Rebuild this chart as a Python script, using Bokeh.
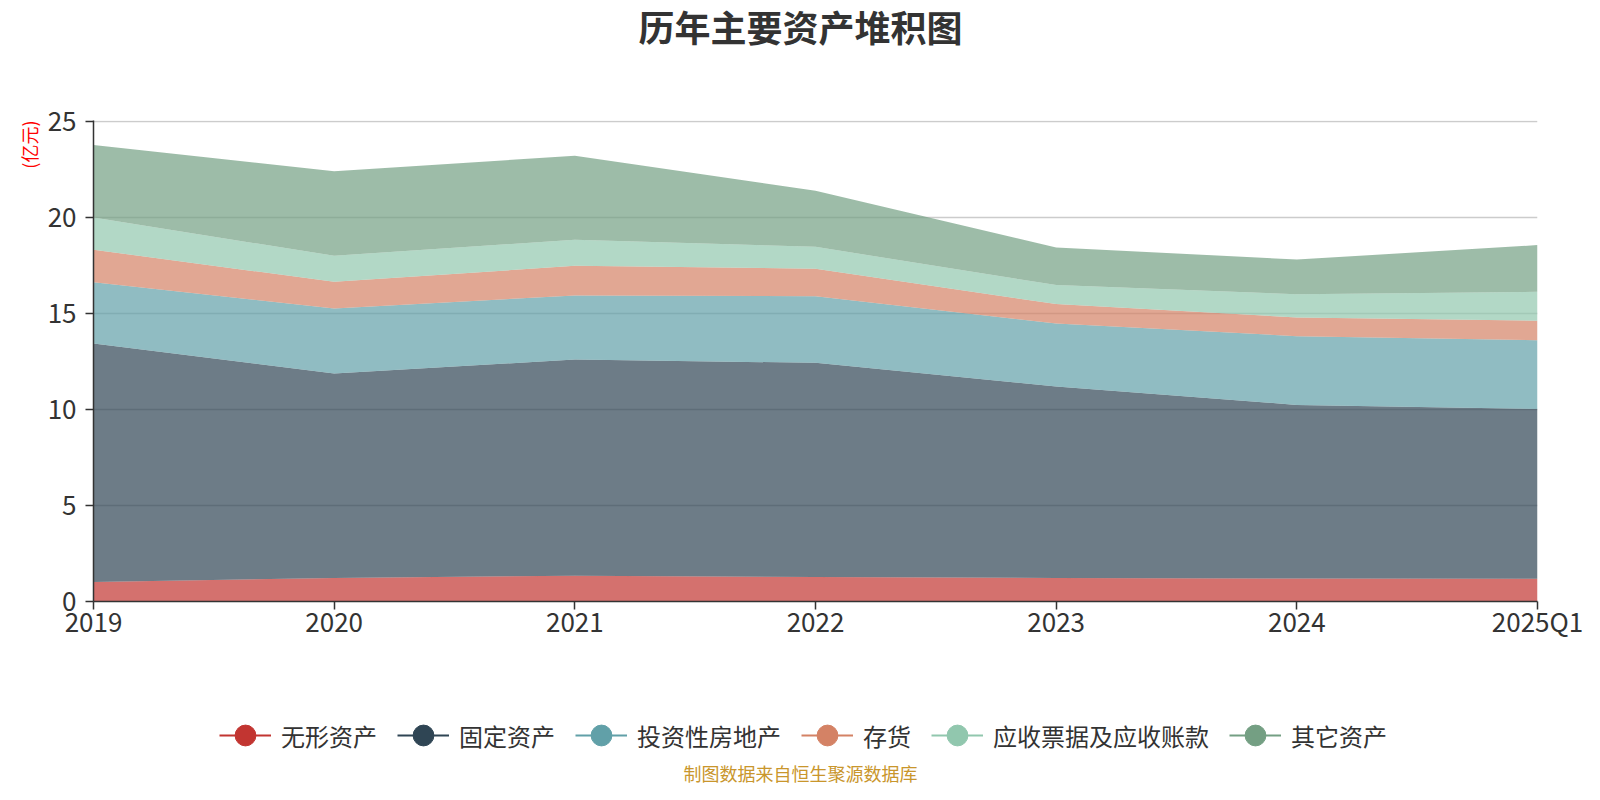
from bokeh.plotting import figure
from bokeh.layouts import column
from bokeh.models import ColumnDataSource, FixedTicker, Label, Legend, LegendItem, Title
from bokeh.embed import file_html
from bokeh.resources import INLINE

# ---- data ----
periods = ["2019", "2020", "2021", "2022", "2023", "2024", "2025Q1"]
series_names = ["无形资产", "固定资产", "投资性房地产", "存货", "应收票据及应收账款", "其它资产"]
intangible = [1.02, 1.23, 1.34, 1.28, 1.23, 1.20, 1.18]
fixed_assets = [12.42, 10.65, 11.26, 11.15, 9.97, 9.04, 8.85]
investment_property = [3.19, 3.38, 3.34, 3.47, 3.28, 3.58, 3.58]
inventory = [1.69, 1.39, 1.54, 1.43, 1.01, 0.97, 1.01]
receivables = [1.68, 1.35, 1.36, 1.14, 0.99, 1.21, 1.51]
other_assets = [3.78, 4.41, 4.37, 2.92, 1.96, 1.81, 2.43]
y_ticks = [0, 5, 10, 15, 20, 25]

colors = ["#c23531", "#2f4554", "#61a0a8", "#d48265", "#91c7ae", "#749f83"]
FONT = "Noto Sans CJK SC"

W = 1584
FL, FR = 93, 1537          # frame left / right (px)
H1 = 102                   # header height
TOP, FH, BOT = 18, 481, 45 # main: top border, frame height, bottom border
H2 = TOP + FH + BOT
H3 = 784 - H1 - H2         # footer height


def blank_fig(h):
    f = figure(width=W, height=h, output_backend="svg", toolbar_location=None,
               x_range=(FL, FR), y_range=(0, h), x_axis_type=None, y_axis_type=None,
               min_border_left=FL, min_border_right=W - FR,
               min_border_top=0, min_border_bottom=0)
    f.grid.visible = False
    f.outline_line_color = None
    f.background_fill_color = "white"
    f.border_fill_color = "white"
    return f


# ---- header with title ----
header = blank_fig(H1)
header.add_layout(Label(x=800, y=H1 - 25.5, text="历年主要资产堆积图",
                        text_align="center", text_baseline="middle",
                        text_font=FONT, text_font_size="36px", text_font_style="bold",
                        text_color="#333333"))

# ---- main chart ----
xs = list(range(len(periods)))
source = ColumnDataSource(data={
    "x": xs,
    series_names[0]: intangible,
    series_names[1]: fixed_assets,
    series_names[2]: investment_property,
    series_names[3]: inventory,
    series_names[4]: receivables,
    series_names[5]: other_assets,
})

p = figure(width=W, height=H2, output_backend="svg", toolbar_location=None,
           x_range=(0, len(periods) - 1), y_range=(0, 25.05),
           min_border_left=FL, min_border_right=W - FR,
           min_border_top=TOP, min_border_bottom=BOT)
p.outline_line_color = None
p.background_fill_color = "white"
p.border_fill_color = "white"

p.varea_stack(stackers=series_names, x="x", color=colors, fill_alpha=0.7, source=source)

p.xaxis.ticker = FixedTicker(ticks=xs)
p.xaxis.major_label_overrides = {i: lab for i, lab in enumerate(periods)}
p.yaxis.ticker = FixedTicker(ticks=y_ticks)
for ax in (p.xaxis[0], p.yaxis[0]):
    ax.axis_line_color = "#333333"
    ax.axis_line_width = 1.5
    ax.major_tick_line_color = "#333333"
    ax.major_tick_line_width = 1.5
    ax.major_tick_out = 8
    ax.major_tick_in = 0
    ax.minor_tick_line_color = None
    ax.major_label_text_font = FONT
    ax.major_label_text_font_size = "26px"
    ax.major_label_text_color = "#333333"
p.yaxis.major_label_standoff = 9
p.xaxis.major_label_standoff = -8

p.xgrid.grid_line_color = None
p.ygrid.grid_line_color = "#cccccc"
p.ygrid.grid_line_width = 1.5

unit_title = Title(text="(亿元)", align="right", text_font=FONT, text_font_size="18px",
                   text_color="#ff0000", text_font_style="normal", standoff=5)
p.add_layout(unit_title, "left")

# ---- footer with legend and source note ----
# legend proxies: the series drawn in the footer lie outside its visible x range
footer = blank_fig(H3)
items = []
for name, c in zip(series_names, colors):
    r1 = footer.line(x="x", y=name, source=source, line_color=c, line_width=2)
    r2 = footer.scatter(x="x", y=name, source=source, marker="circle",
                        fill_color=c, line_color=c)
    items.append(LegendItem(label=name, renderers=[r1, r2]))

LEG_H = 56
leg_center = 735 - H1 - H2          # legend centre inside footer (from top)
legend = Legend(items=items, orientation="horizontal",
                location=(219 - FL, H3 - leg_center - LEG_H / 2),
                glyph_width=52, glyph_height=LEG_H, label_height=LEG_H,
                label_standoff=10, spacing=20, padding=0, margin=0,
                label_text_font=FONT, label_text_font_size="24px",
                label_text_color="#333333",
                border_line_alpha=0, background_fill_alpha=0)
footer.add_layout(legend, "center")

footer.add_layout(Label(x=800, y=H3 - (772 - H1 - H2), text="制图数据来自恒生聚源数据库",
                        text_align="center", text_baseline="middle",
                        text_font=FONT, text_font_size="18px", text_color="#c9962c"))

layout = column(header, p, footer, spacing=0)
open("out.html", "w").write(file_html(layout, INLINE))
